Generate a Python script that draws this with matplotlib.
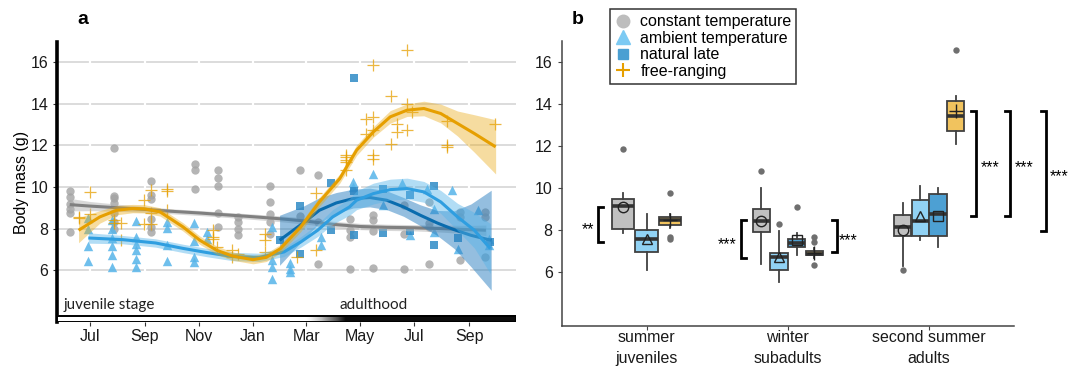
import numpy as np
import pandas as pd
import matplotlib
matplotlib.use('Agg')
import matplotlib.pyplot as plt
import matplotlib.dates as mdates
from matplotlib.lines import Line2D
from matplotlib.patches import Rectangle

plt.rcParams['font.family'] = ['Liberation Sans', 'DejaVu Sans']

# ---------------- panel a : raw body masses per sampling date ----------------
const_dates = ['2019-06-08', '2019-07-28', '2019-09-08', '2019-10-27', '2019-11-23', '2019-12-15',
               '2020-01-20', '2020-02-23', '2020-03-14', '2020-04-19', '2020-05-16', '2020-06-19',
               '2020-07-18', '2020-08-22', '2020-09-19']
const_mass = [[9.79, 9.5, 9.2, 8.95, 8.77, 7.84], [11.87, 9.57, 9.45, 9.25, 8.75, 8.3, 8.0],
              [10.27, 9.6, 9.4, 8.45, 8.1, 7.84], [11.12, 10.8, 9.9], [10.83, 10.43, 10.05, 8.75, 8.08],
              [8.56, 8.3, 8.0, 7.7], [10.03, 9.28, 8.72, 8.32, 7.76], [10.8, 8.6], [10.56, 8.3, 6.32],
              [8.48, 7.95, 7.6, 6.08], [8.67, 8.4, 7.87, 6.11], [9.15, 7.76, 6.08],
              [9.28, 8.27, 8.1, 6.32], [8.8, 8.56, 6.48], [8.8, 8.56, 6.64]]

amb_dates = ['2019-06-29', '2019-07-26', '2019-08-22', '2019-09-26', '2019-10-26', '2019-11-10',
             '2020-01-22', '2020-02-12', '2020-03-18', '2020-04-23', '2020-05-16', '2020-05-27',
             '2020-06-17', '2020-06-26', '2020-07-16', '2020-07-23', '2020-08-13', '2020-08-20',
             '2020-09-11', '2020-09-24']
amb_mass = [[8.5, 8.0, 7.15, 6.45], [8.4, 8.0, 7.55, 7.15, 6.75, 6.15], [8.35, 7.6, 7.25, 6.95, 6.55, 6.15],
            [8.3, 8.05, 7.2, 6.45], [8.25, 7.4, 6.65, 6.4], [7.85, 7.5], [8.1, 6.5, 6.15, 5.6],
            [6.35, 6.05, 5.9], [7.6, 7.2], [10.24, 10.0], [10.64], [9.12], [10.19], [7.68], [9.92],
            [8.96, 7.84], [9.84], [7.04], [8.88], [7.52, 7.2]]

late_dates = ['2020-01-31', '2020-02-23', '2020-03-29', '2020-04-24', '2020-05-27', '2020-06-26',
              '2020-07-23', '2020-08-20', '2020-09-25']
late_mass = [[7.44], [9.07, 6.8], [10.19, 7.92], [15.2, 9.8, 7.68], [9.92, 7.79], [9.6, 7.87],
             [10.03, 7.2], [7.57], [7.36]]

free_dates = ['2019-06-18', '2019-07-01', '2019-07-28', '2019-08-05', '2019-08-31', '2019-09-08',
              '2019-09-26', '2019-11-17', '2019-11-21', '2019-12-08', '2019-12-15', '2020-01-15',
              '2020-02-20', '2020-03-12', '2020-04-15', '2020-05-08', '2020-05-15', '2020-06-05',
              '2020-06-12', '2020-06-23', '2020-06-28', '2020-08-07', '2020-09-30']
free_mass = [[8.51, 8.56], [9.76, 8.72], [8.27, 8.4], [8.27, 7.44], [9.36, 8.2], [9.84, 8.75, 8.2],
             [9.79, 9.9, 8.88], [7.92, 7.6, 7.52], [7.12], [6.64, 6.96], [6.8], [7.76, 7.44, 6.9],
             [6.64], [9.72, 6.96], [11.52, 11.28, 11.44, 11.2, 10.8], [13.28, 12.53],
             [15.84, 13.36, 12.72, 11.52, 11.36], [14.35, 12.05], [13.04, 12.64], [16.56, 14.0, 12.72],
             [13.6], [13.17, 12.0, 11.92], [13.01]]

# smoothed trends (fit + half width of confidence band)
const_fit_x = ['2019-06-08', '2019-07-01', '2019-08-01', '2019-09-01', '2019-10-01', '2019-11-01',
               '2019-12-01', '2020-01-01', '2020-02-01', '2020-03-01', '2020-04-01', '2020-05-01',
               '2020-06-01', '2020-07-01', '2020-08-01', '2020-09-01', '2020-09-20']
const_fit_y = [9.15, 9.08, 9.0, 8.92, 8.83, 8.75, 8.66, 8.57, 8.47, 8.36, 8.2, 8.1, 8.06, 8.04, 8.0, 7.95, 7.92]
const_fit_se = [0.3, 0.22, 0.17, 0.14, 0.12, 0.12, 0.12, 0.13, 0.14, 0.15, 0.15, 0.15, 0.15, 0.15, 0.17, 0.2, 0.25]

free_fit_x = ['2019-06-18', '2019-07-12', '2019-07-31', '2019-08-18', '2019-08-31', '2019-09-18',
              '2019-10-14', '2019-11-02', '2019-11-21', '2019-12-09', '2020-01-01', '2020-01-16',
              '2020-02-01', '2020-02-24', '2020-03-16', '2020-04-08', '2020-04-27', '2020-05-16',
              '2020-06-04', '2020-06-23', '2020-07-12', '2020-07-31', '2020-08-19', '2020-09-07',
              '2020-10-01']
free_fit_y = [7.92, 8.56, 8.88, 8.96, 8.95, 8.8, 8.08, 7.44, 6.96, 6.68, 6.51, 6.62, 7.04, 8.08, 9.28,
              10.4, 11.76, 12.64, 13.36, 13.68, 13.76, 13.52, 13.04, 12.56, 11.92]
free_fit_se = [0.6, 0.3, 0.22, 0.2, 0.2, 0.2, 0.2, 0.2, 0.2, 0.2, 0.2, 0.2, 0.2, 0.22, 0.22, 0.22,
               0.25, 0.25, 0.3, 0.3, 0.35, 0.45, 0.6, 0.9, 1.3]

amb_fit_x = ['2019-06-29', '2019-08-07', '2019-09-13', '2019-10-14', '2019-11-10', '2019-12-09',
             '2020-01-08', '2020-02-05', '2020-02-24', '2020-03-14', '2020-03-31', '2020-04-19',
             '2020-04-27', '2020-05-16', '2020-06-04', '2020-06-23', '2020-07-12', '2020-07-31',
             '2020-08-19', '2020-09-07', '2020-09-25']
amb_fit_y = [7.55, 7.47, 7.31, 7.05, 6.85, 6.66, 6.62, 6.88, 7.36, 7.92, 8.56, 9.04, 9.36, 9.68, 9.87,
             9.92, 9.76, 9.28, 8.56, 7.92, 7.04]
amb_fit_se = [0.25, 0.2, 0.2, 0.2, 0.2, 0.2, 0.2, 0.22, 0.25, 0.3, 0.35, 0.4, 0.45, 0.5, 0.5, 0.5,
              0.5, 0.55, 0.65, 0.85, 1.2]

late_fit_x = ['2020-01-31', '2020-02-27', '2020-03-16', '2020-04-04', '2020-04-23', '2020-05-12',
              '2020-05-31', '2020-06-19', '2020-07-08', '2020-07-27', '2020-08-15', '2020-09-03',
              '2020-09-26']
late_fit_y = [7.44, 8.28, 8.88, 9.23, 9.44, 9.49, 9.36, 9.04, 8.64, 8.27, 7.95, 7.68, 7.44]
late_fit_se = [1.2, 0.8, 0.6, 0.5, 0.45, 0.45, 0.45, 0.45, 0.5, 0.6, 0.9, 1.5, 2.4]

# ---------------- panel b : box summaries (whislo, q1, med, q3, whishi) ----------------
stages = ['summer\njuveniles', 'winter\nsubadults', 'second summer\nadults']
const_box = [[7.86, 8.08, 9.17, 9.51, 9.79], [6.4, 7.91, 8.45, 9.01, 10.01], [6.3, 7.73, 8.13, 8.74, 9.29]]
const_out = [[11.87], [10.81], [6.10]]
const_mean = [9.10, 8.44, 7.99]
amb_box = [[6.11, 6.98, 7.57, 8.02, 8.76], [5.51, 6.11, 6.70, 6.91, 7.97], [7.54, 7.73, 8.42, 9.45, 10.09]]
amb_out = [[], [8.31], []]
amb_mean = [7.57, 6.70, 8.66]
late_box = [None, [6.83, 7.19, 7.38, 7.59, 7.86], [7.19, 7.73, 8.77, 9.72, 9.99]]
late_out = [[], [9.12], []]
late_mean = [None, 7.51, 8.69]
free_box = [[8.10, 8.23, 8.47, 8.62, 8.77], [6.67, 6.80, 6.89, 6.99, 7.15], [12.11, 12.71, 13.43, 14.15, 14.38]]
free_out = [[9.79, 7.70, 7.57], [7.67, 7.42, 6.32], [16.61]]
free_mean = [8.47, 6.90, 13.67]

# significance brackets: x, y low, y high, side of the ticks, label, label x, label y
sig_x = [0.657, 1.672, 2.345, 3.329, 3.572, 3.823]
sig_lo = [7.46, 6.67, 6.95, 8.66, 8.66, 7.94]
sig_hi = [9.10, 8.50, 8.47, 13.70, 13.70, 13.70]
sig_side = [1, 1, -1, -1, -1, -1]
sig_lab = ['**', '***', '***', '***', '***', '***']
sig_lx = [0.586, 1.574, 2.428, 3.43, 3.674, 3.922]
sig_ly = [8.26, 7.54, 7.73, 11.23, 11.23, 10.8]

# ---------------- styling ----------------
col_const, col_amb, col_late, col_free = '#a3a3a3', '#56b4e9', '#2f8bc6', '#e69f00'
box_fill = ['#c0c0c0', '#91d2f4', '#4da0d3', '#f1c35e']


def expand(dates, vals):
    xs, ys = [], []
    for d, v in zip(dates, vals):
        xs += [d] * len(v)
        ys += v
    return pd.to_datetime(xs), ys


fig = plt.figure(figsize=(10.78, 3.66), dpi=100)
axa = fig.add_axes([57.3 / 1078, 44 / 366, 458.7 / 1078, 280 / 366])
axb = fig.add_axes([561.7 / 1078, 40.3 / 366, 452.3 / 1078, 285 / 366])

# ---- panel a
x0, x1 = mdates.date2num(pd.Timestamp('2019-05-25')), mdates.date2num(pd.Timestamp('2020-10-24'))
axa.set_xlim(x0, x1)
axa.set_ylim(3.52, 16.95)
axa.set_yticks([6, 8, 10, 12, 14, 16])
axa.yaxis.grid(True, color='#d6d6d6', lw=1.2, zorder=0.5)
axa.set_axisbelow(True)
mticks = pd.to_datetime(['2019-07-01', '2019-09-01', '2019-11-01', '2020-01-01',
                         '2020-03-01', '2020-05-01', '2020-07-01', '2020-09-01'])
axa.set_xticks(mticks)
axa.xaxis.set_major_formatter(mdates.DateFormatter('%b'))
for t in mticks:
    axa.axvline(t, color='white', lw=1.6, zorder=0.7)

x, y = expand(const_dates, const_mass)
axa.scatter(x, y, s=36, marker='o', color=col_const, alpha=0.8, lw=0, zorder=2)
x, y = expand(amb_dates, amb_mass)
axa.scatter(x, y, s=46, marker='^', color=col_amb, alpha=0.85, lw=0, zorder=2)
x, y = expand(late_dates, late_mass)
axa.scatter(x, y, s=34, marker='s', color=col_late, alpha=0.85, lw=0, zorder=2)
x, y = expand(free_dates, free_mass)
axa.scatter(x, y, s=80, marker='+', color=col_free, alpha=0.75, lw=0.9, zorder=2)

fits = [(const_fit_x, const_fit_y, const_fit_se, '#b3b3b3', 0.5, '#808080'),
        (late_fit_x, late_fit_y, late_fit_se, '#2a7fc0', 0.5, '#0a6cae'),
        (amb_fit_x, amb_fit_y, amb_fit_se, '#56b4e9', 0.45, '#2f9ee0'),
        (free_fit_x, free_fit_y, free_fit_se, '#e9a912', 0.4, '#e69f00')]
for i, (fx, fy, fse, bc, ba, lc) in enumerate(fits):
    fx = pd.to_datetime(fx)
    fy = np.array(fy)
    fse = np.array(fse)
    axa.fill_between(fx, fy - fse, fy + fse, color=bc, alpha=ba, lw=0, zorder=3 + i)
    axa.plot(fx, fy, color=lc, lw=2.2, zorder=3.5 + i, solid_capstyle='butt')

# life stage bar along the bottom
grad_x = np.linspace(x0, x1, 400)
g0, g1 = mdates.date2num(pd.Timestamp('2020-03-01')), mdates.date2num(pd.Timestamp('2020-04-15'))
grad = np.clip((grad_x - g0) / (g1 - g0), 0, 1)[None, :]
axa.imshow(grad, extent=[x0, x1, 3.52, 3.83], aspect='auto', cmap='Greys', vmin=0, vmax=1.05,
           zorder=8, interpolation='bilinear')
axa.add_patch(Rectangle((x0, 3.52), x1 - x0, 0.31, fill=False, ec='black', lw=1.4, zorder=9))
axa.text(mdates.date2num(pd.Timestamp('2019-06-01')), 4.32, 'juvenile stage', fontsize=11,
         family='Lato', va='center', ha='left', color='#222222', zorder=10)
axa.text(mdates.date2num(pd.Timestamp('2020-05-16')), 4.32, 'adulthood', fontsize=11,
         family='Lato', va='center', ha='center', color='#222222', zorder=10)

for s in ['top', 'right', 'bottom']:
    axa.spines[s].set_visible(False)
axa.spines['left'].set_linewidth(2.6)
axa.spines['left'].set_color('black')
axa.tick_params(axis='both', labelsize=11.5, length=3, color='#333333', labelcolor='#1a1a1a')
axa.tick_params(axis='x', pad=2)
axa.set_ylabel('Body mass (g)', fontsize=11.5, labelpad=1)
fig.text(83 / 1078, 1 - 19 / 366, 'a', fontsize=14, fontweight='bold', ha='center', va='center')

# ---- panel b
axb.set_xlim(0.4, 3.6)
axb.set_ylim(3.45, 17.03)
groups = [(const_box, const_out, const_mean, 'o'), (amb_box, amb_out, amb_mean, '^'),
          (late_box, late_out, late_mean, 's'), (free_box, free_out, free_mean, '+')]
for c in range(len(stages)):
    present = [g for g in range(4) if groups[g][0][c] is not None]
    slot = 0.5 / len(present)
    for k, g in enumerate(present):
        box, out, mean, mk = groups[g]
        lo, q1, med, q3, hi = box[c]
        pos = c + 1 + (k - (len(present) - 1) / 2) * slot
        st = dict(whislo=lo, q1=q1, med=med, q3=q3, whishi=hi, fliers=out[c])
        axb.bxp([st], positions=[pos], widths=slot * 0.97, patch_artist=True, showcaps=False,
                boxprops=dict(facecolor=box_fill[g], edgecolor='#404040', lw=1.3),
                whiskerprops=dict(color='#404040', lw=1.3),
                medianprops=dict(color='#333333', lw=2.6, solid_capstyle='butt'),
                flierprops=dict(marker='o', mfc='#6f6f6f', mec='none', ms=4.6), zorder=3)
        if mk == '+':
            axb.plot(pos, mean[c], marker='+', ms=10, mew=1.0, color='#222222', zorder=5)
        else:
            axb.plot(pos, mean[c], marker=mk, ms=7.5, mfc='none', mec='#222222', mew=1.0, zorder=5)

tick_w = 0.035
for bx, lo, hi, sd, lab, lx, ly in zip(sig_x, sig_lo, sig_hi, sig_side, sig_lab, sig_lx, sig_ly):
    axb.plot([bx + sd * tick_w, bx, bx, bx + sd * tick_w], [hi, hi, lo, lo], color='black', lw=2,
             clip_on=False, solid_joinstyle='miter')
    axb.text(lx, ly - 0.25, lab, fontsize=11.5, ha='center', va='center', clip_on=False)

axb.set_xticks([1, 2, 3])
axb.set_xticklabels(stages, fontsize=11.5, linespacing=1.5)
axb.set_yticks([6, 8, 10, 12, 14, 16])
for s in ['top', 'right']:
    axb.spines[s].set_visible(False)
for s in ['left', 'bottom']:
    axb.spines[s].set_color('#444444')
    axb.spines[s].set_linewidth(1.1)
axb.tick_params(axis='both', labelsize=11.5, length=3, color='#444444', labelcolor='#1a1a1a')
axb.tick_params(axis='x', pad=0)
fig.text(578 / 1078, 1 - 20 / 366, 'b', fontsize=14, fontweight='bold', ha='center', va='center')

handles = [Line2D([], [], ls='none', marker='o', color='#bdbdbd', ms=9),
           Line2D([], [], ls='none', marker='^', color='#7ccaf3', ms=10),
           Line2D([], [], ls='none', marker='s', color='#4a9fd2', ms=7.5),
           Line2D([], [], ls='none', marker='+', color=col_free, ms=10, mew=1.5)]
labels = ['constant temperature', 'ambient temperature', 'natural late', 'free-ranging']
leg = fig.legend(handles, labels, loc='upper left', bbox_to_anchor=(610 / 1078, 1 - 9.3 / 366),
                 fontsize=11.5, frameon=True, fancybox=False, framealpha=1, edgecolor='#333333',
                 borderpad=0.3, labelspacing=0.1, handlelength=1.0, handletextpad=0.6,
                 borderaxespad=0)
leg.get_frame().set_linewidth(1.1)

fig.savefig('out.png', dpi=100)
